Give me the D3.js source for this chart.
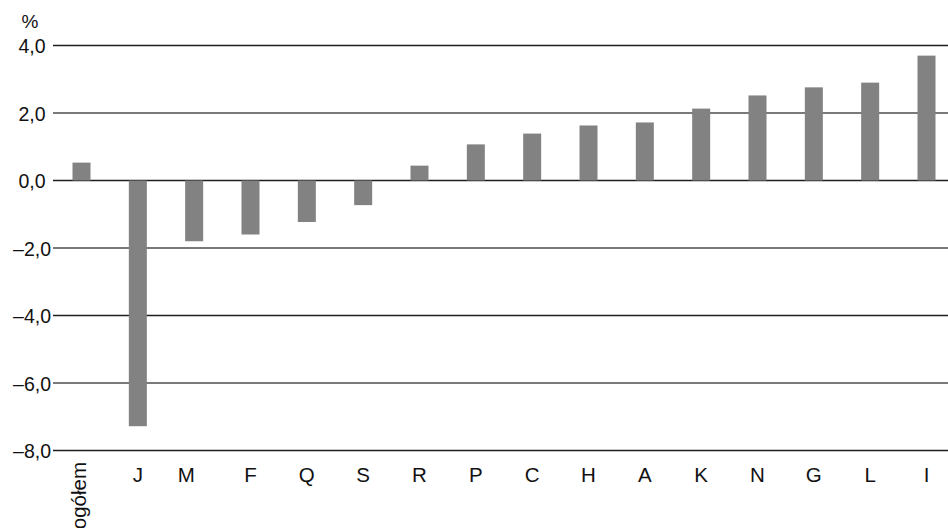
<!DOCTYPE html>
<html>
<head>
<meta charset="utf-8">
<script src="https://cdn.jsdelivr.net/npm/d3@7/dist/d3.min.js"></script>
<style>
  html, body { margin: 0; padding: 0; background: #fff; }
  svg { display: block; font-family: "Liberation Sans", Arial, sans-serif; }
</style>
</head>
<body>
<svg id="chart" width="948" height="528"></svg>
<script>
const categories = ["ogółem","J","M","F","Q","S","R","P","C","H","A","K","N","G","L","I"];
const values = [0.53, -7.28, -1.8, -1.6, -1.23, -0.73, 0.44, 1.07, 1.39, 1.63, 1.72, 2.13, 2.52, 2.76, 2.9, 3.7];
const yTicks = [4, 2, 0, -2, -4, -6, -8];
const yUnit = "%";

const svg = d3.select("#chart");
const x = d3.scalePoint().domain(categories).range([81.5, 926.5]);
const y = d3.scaleLinear().domain([-8, 4]).range([450.5, 45.5]);
const fmt = v => (v < 0 ? "\u2013" : "") + Math.abs(v).toFixed(1).replace(".", ",");

// gridlines
svg.append("g").selectAll("line").data(yTicks).join("line")
  .attr("x1", 53).attr("x2", 948)
  .attr("y1", d => y(d)).attr("y2", d => y(d))
  .attr("stroke", d => (d % 4 === 0 ? "#1e1e1e" : "#7a7a7a"))
  .attr("stroke-width", d => (d % 4 === 0 ? 1.5 : 1.8));

// y labels
svg.append("g").selectAll("text").data(yTicks).join("text")
  .attr("x", d => (d < 0 ? 51 : 45.5)).attr("y", d => y(d) + 7.5)
  .attr("text-anchor", "end").attr("font-size", "19.5px").attr("fill", "#111")
  .text(fmt);

svg.append("text").attr("x", 30).attr("y", 28.3).attr("text-anchor", "middle")
  .attr("font-size", "19px").attr("fill", "#111").text(yUnit);

// bars
const bw = 18;
svg.append("g").selectAll("rect").data(categories).join("rect")
  .attr("x", d => x(d) - bw / 2)
  .attr("width", bw)
  .attr("y", (d, i) => y(Math.max(0, values[i])))
  .attr("height", (d, i) => Math.abs(y(values[i]) - y(0)))
  .attr("fill", "#828282");

// category labels
const lab = svg.append("g").attr("font-size", "20.5px").attr("fill", "#111");
categories.forEach((c, i) => {
  if (i === 0) {
    lab.append("text")
      .attr("transform", `translate(${x(c) + 4.5},462) rotate(-90)`)
      .attr("text-anchor", "end").text(c);
  } else {
    lab.append("text").attr("x", x(c) + (c === "M" ? -8 : 0)).attr("y", 481.5)
      .attr("text-anchor", "middle").text(c);
  }
});
</script>
</body>
</html>
